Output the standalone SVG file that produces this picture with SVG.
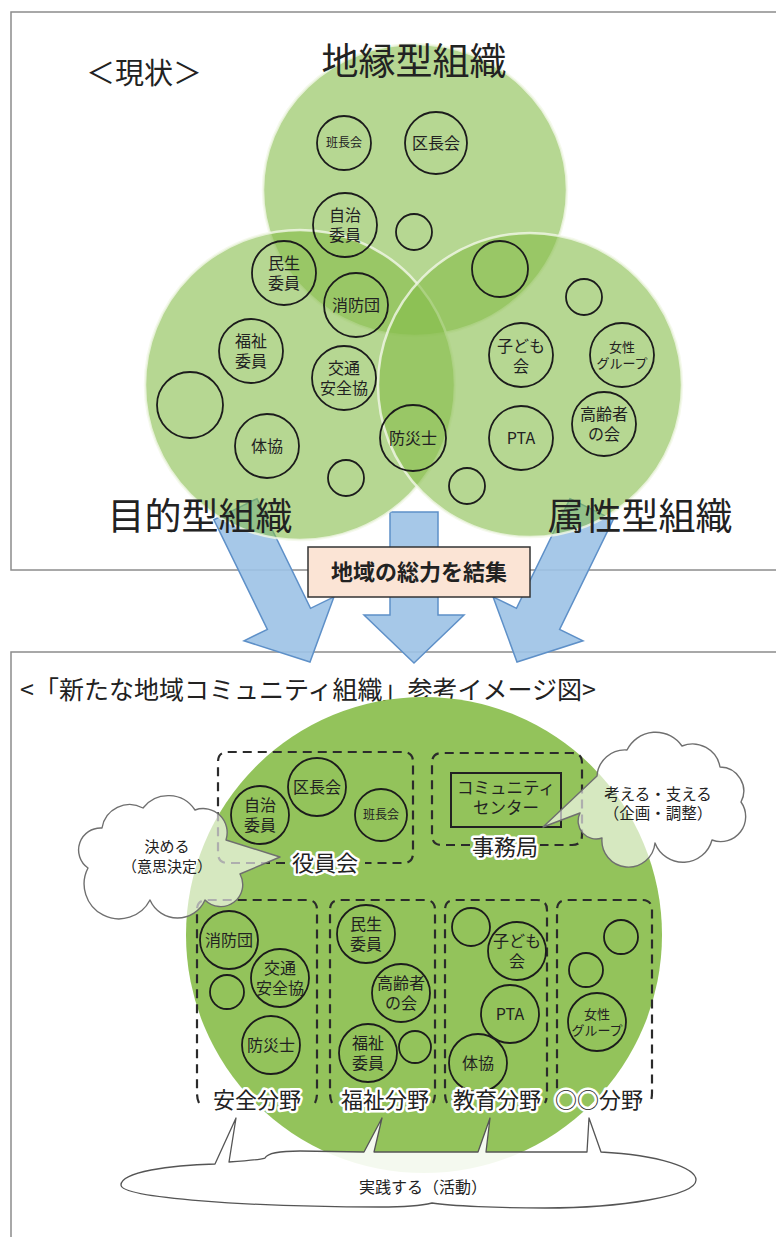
<svg xmlns="http://www.w3.org/2000/svg" width="776" height="1237" viewBox="0 0 776 1237">
<defs>
<style>
text{font-family:"Noto Sans CJK JP","Noto Sans",sans-serif;fill:#222}
.panel{fill:none;stroke:#8c8c8c;stroke-width:1.5}
.venn{fill:#86bd4a;fill-opacity:0.6;stroke:#f2f8e8;stroke-opacity:0.8;stroke-width:2.5}
.c{fill:none;stroke:#1c1c1c;stroke-width:1.8}
.t{font-size:16px;text-anchor:middle}
.s{font-size:13px;text-anchor:middle}
.big{font-size:37px;text-anchor:middle}
.arrow{fill:#9cc2e6;fill-opacity:0.9;stroke:#5e90c8;stroke-width:1.5}
.dash{fill:none;stroke:#2b2b2b;stroke-width:2.2;stroke-dasharray:9 6}
.halo{font-size:22px;text-anchor:middle;stroke:#fff;stroke-width:5;stroke-linejoin:round;paint-order:stroke}
.cloud{fill:#fff;fill-opacity:0.62;stroke:#6f6f6f;stroke-width:1.4;stroke-linejoin:round}
</style>
</defs>
<rect width="776" height="1237" fill="#fff"/>
<g id="panels">
<rect class="panel" x="11" y="12" width="800" height="558"/>
<rect class="panel" x="11" y="652" width="800" height="700"/>
</g>
<text x="86" y="84" font-size="29">＜現状＞</text>
<g id="connectors">
<path class="arrow" transform="translate(310,662) rotate(-26)" d="M-24,-170 L24,-170 L24,-48 L50,-48 L0,0 L-50,-48 L-24,-48 Z"/>
<path class="arrow" transform="translate(414,663)" d="M-24,-151 L24,-151 L24,-48 L50,-48 L0,0 L-50,-48 L-24,-48 Z"/>
<path class="arrow" transform="translate(517,662) rotate(26)" d="M-24,-170 L24,-170 L24,-48 L50,-48 L0,0 L-50,-48 L-24,-48 Z"/>
</g>
<g id="venn-chien"><ellipse class="venn" cx="415" cy="190" rx="152" ry="146"/><text class="big" x="414" y="75" font-size="36">地縁型組織</text></g>
<g id="venn-mokuteki"><circle class="venn" cx="300" cy="385" r="155"/><text class="big" x="200" y="530">目的型組織</text></g>
<g id="venn-zokusei"><circle class="venn" cx="530" cy="385" r="152"/><text class="big" x="640" y="530">属性型組織</text></g>

<g id="top-hanchokai"><circle class="c" cx="344" cy="143" r="27"/><text x="344" y="147" font-size="12" text-anchor="middle">班長会</text></g>
<g id="top-kuchokai"><circle class="c" cx="436" cy="143" r="31"/><text class="t" x="436" y="149">区長会</text></g>
<g id="top-jichi"><circle class="c" cx="345" cy="225" r="32"/><text class="t" x="345" y="221">自治<tspan x="345" dy="20">委員</tspan></text></g>
<g id="top-e1"><circle class="c" cx="414" cy="232" r="18"/></g>
<g id="top-minsei"><circle class="c" cx="284" cy="273" r="32"/><text class="t" x="284" y="269">民生<tspan x="284" dy="20">委員</tspan></text></g>
<g id="top-shobo"><circle class="c" cx="356" cy="305" r="32"/><text class="t" x="356" y="311">消防団</text></g>
<g id="top-e2"><circle class="c" cx="500" cy="269" r="28"/></g>
<g id="top-e3"><circle class="c" cx="584" cy="297" r="18"/></g>
<g id="top-fukushi"><circle class="c" cx="251" cy="351" r="32"/><text class="t" x="251" y="347">福祉<tspan x="251" dy="20">委員</tspan></text></g>
<g id="top-kotsu"><circle class="c" cx="344" cy="378" r="32"/><text class="t" x="344" y="374">交通<tspan x="344" dy="20">安全協</tspan></text></g>
<g id="top-kodomo"><circle class="c" cx="521" cy="355" r="32"/><text class="t" x="521" y="352">子ども<tspan x="521" dy="20">会</tspan></text></g>
<g id="top-josei"><circle class="c" cx="622" cy="355" r="32"/><text class="s" x="622" y="352">女性<tspan x="622" dy="16">グループ</tspan></text></g>
<g id="top-e4"><circle class="c" cx="190" cy="405" r="33"/></g>
<g id="top-bosai"><circle class="c" cx="413" cy="438" r="33"/><text class="t" x="413" y="444">防災士</text></g>
<g id="top-pta"><circle class="c" cx="521" cy="438" r="32"/><text class="t" x="521" y="444">PTA</text></g>
<g id="top-korei"><circle class="c" cx="604" cy="424" r="32"/><text class="t" x="604" y="420">高齢者<tspan x="604" dy="20">の会</tspan></text></g>
<g id="top-taikyo"><circle class="c" cx="267" cy="446" r="32"/><text class="t" x="267" y="452">体協</text></g>
<g id="top-e5"><circle class="c" cx="346" cy="478" r="18"/></g>
<g id="top-e6"><circle class="c" cx="467" cy="486" r="18"/></g>

<g id="kessyu"><rect x="308" y="547" width="222" height="50" fill="#fbe4d5" stroke="#333" stroke-width="1.5"/><text x="419" y="580" font-size="22" font-weight="bold" text-anchor="middle" fill="#1a1a1a">地域の総力を結集</text></g>

<text x="20" y="699" font-size="25">&lt;「新たな地域コミュニティ組織」参考イメージ図&gt;</text>
<g id="community"><circle cx="424" cy="935" r="238" fill="#93c35b"/></g>

<g id="yakuinkai">
<path class="dash" d="M285,863 L228,863 Q218,863 218,853 L218,762 Q218,752 228,752 L403,752 Q413,752 413,762 L413,853 Q413,863 403,863 L365,863"/>
<circle class="c" cx="260" cy="815" r="29"/><text class="t" x="260" y="811">自治<tspan x="260" dy="20">委員</tspan></text>
<circle class="c" cx="317" cy="787" r="29"/><text class="t" x="317" y="793">区長会</text>
<circle class="c" cx="381" cy="815" r="26"/><text x="381" y="819" font-size="12" text-anchor="middle">班長会</text>
<text class="halo" x="325" y="871">役員会</text>
</g>
<g id="jimukyoku">
<path class="dash" d="M470,845 L442,845 Q432,845 432,835 L432,763 Q432,753 442,753 L572,753 Q582,753 582,763 L582,835 Q582,845 572,845 L540,845"/>
<rect x="451" y="773" width="110" height="54" fill="none" stroke="#222" stroke-width="2"/>
<text x="506" y="794" font-size="16.5" text-anchor="middle" fill="#333">コミュニティ<tspan x="506" dy="20">センター</tspan></text>
<text class="halo" x="505" y="855">事務局</text>
</g>
<g id="anzen">
<path class="dash" d="M199,1103 Q197,1099 197,1093 L197,910 Q197,900 207,900 L307,900 Q317,900 317,910 L317,1093 Q317,1099 315,1103"/>
<circle class="c" cx="229" cy="940" r="29"/><text class="t" x="229" y="946">消防団</text>
<circle class="c" cx="280" cy="978" r="29"/><text class="t" x="280" y="974">交通<tspan x="280" dy="20">安全協</tspan></text>
<circle class="c" cx="227" cy="992" r="17"/>
<circle class="c" cx="271" cy="1045" r="29"/><text class="t" x="271" y="1051">防災士</text>
<text class="halo" x="257" y="1108">安全分野</text>
</g>
<g id="fukushi">
<path class="dash" d="M332,1103 Q330,1099 330,1093 L330,910 Q330,900 340,900 L425,900 Q435,900 435,910 L435,1093 Q435,1099 433,1103"/>
<circle class="c" cx="366" cy="934" r="29"/><text class="t" x="366" y="930">民生<tspan x="366" dy="20">委員</tspan></text>
<circle class="c" cx="401" cy="993" r="29"/><text class="t" x="401" y="989">高齢者<tspan x="401" dy="20">の会</tspan></text>
<circle class="c" cx="368" cy="1053" r="29"/><text class="t" x="368" y="1049">福祉<tspan x="368" dy="20">委員</tspan></text>
<circle class="c" cx="415" cy="1047" r="16"/>
<text class="halo" x="385" y="1108">福祉分野</text>
</g>
<g id="kyoiku">
<path class="dash" d="M447,1103 Q445,1099 445,1093 L445,910 Q445,900 455,900 L537,900 Q547,900 547,910 L547,1093 Q547,1099 545,1103"/>
<circle class="c" cx="471" cy="927" r="19"/>
<circle class="c" cx="517" cy="951" r="29"/><text class="t" x="517" y="947">子ども<tspan x="517" dy="20">会</tspan></text>
<circle class="c" cx="510" cy="1014" r="29"/><text class="t" x="510" y="1020">PTA</text>
<circle class="c" cx="478" cy="1063" r="29"/><text class="t" x="478" y="1069">体協</text>
<text class="halo" x="497" y="1108">教育分野</text>
</g>
<g id="marumaru">
<path class="dash" d="M559,1103 Q557,1099 557,1093 L557,910 Q557,900 567,900 L642,900 Q652,900 652,910 L652,1093 Q652,1099 650,1103"/>
<circle class="c" cx="621" cy="937" r="17"/>
<circle class="c" cx="586" cy="970" r="17"/>
<circle class="c" cx="597" cy="1022" r="29"/><text class="s" x="597" y="1019">女性<tspan x="597" dy="16">グループ</tspan></text>
<text class="halo" x="599" y="1108">○○分野</text>
</g>

<g id="cloud-kimeru">
<path class="cloud" d="M88,868 A22,22 0 0 1 102,828 A28,28 0 0 1 143,808 A32,32 0 0 1 195,810 A24,24 0 0 1 226,840 L280,857 L240,874 A22,22 0 0 1 205,900 A30,30 0 0 1 150,900 A28,28 0 0 1 88,868 Z"/>
<text x="167" y="852" font-size="15" text-anchor="middle">決める<tspan x="167" dy="20">（意思決定）</tspan></text>
</g>
<g id="cloud-kangaeru">
<path class="cloud" d="M580,813 L543,827 L597,776 A28,28 0 0 1 627,750 A32,32 0 0 1 682,746 A28,28 0 0 1 720,767 A24,24 0 0 1 741,802 A25,25 0 0 1 712,840 A30,30 0 0 1 655,843 A26,26 0 0 1 602,838 A18,18 0 0 1 580,813 Z"/>
<text x="658" y="800" font-size="15.5" text-anchor="middle">考える・支える<tspan x="658" dy="19">（企画・調整）</tspan></text>
</g>
<g id="cloud-jissen">
<path d="M121,1185 C121,1172 170,1165 215,1164 L236,1118 L229,1162 C245,1161 258,1160 265,1158 C268,1152 285,1151 300,1151 L364,1152 L382,1118 L374,1152 L478,1152 L490,1118 L486,1152 L587,1152 L589,1118 L601,1152 C660,1155 696,1168 696,1180 C696,1196 620,1208 545,1208 C500,1208 450,1206 432,1203 C420,1206 400,1207 380,1207 C250,1207 121,1198 121,1185 Z" fill="#fff" fill-opacity="0.9" stroke="#555" stroke-width="1.3" stroke-linejoin="round"/>
<text x="423" y="1193" font-size="16" text-anchor="middle">実践する（活動）</text>
</g>
</svg>
